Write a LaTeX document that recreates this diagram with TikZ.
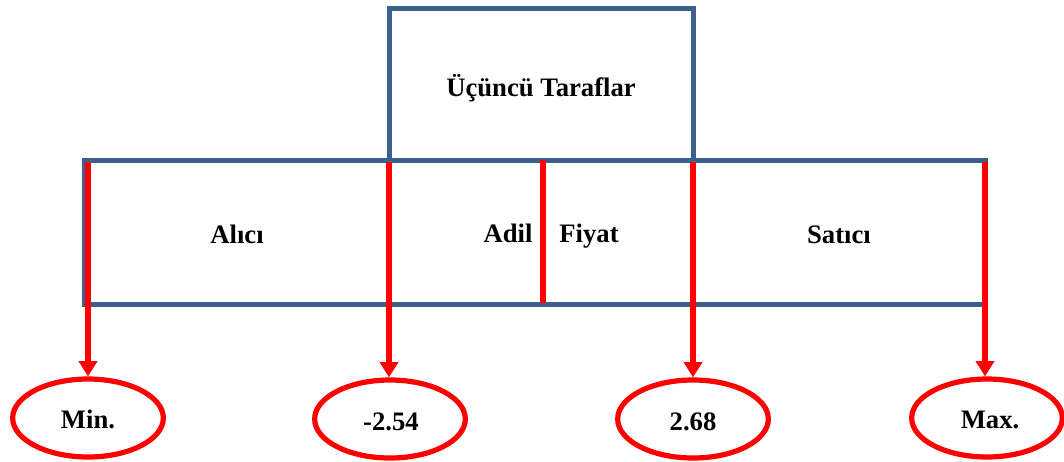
\documentclass[tikz,border=0pt]{standalone}
\usepackage{fontspec}
\setmainfont{Liberation Serif}
\usetikzlibrary{arrows.meta,shapes.geometric}
\definecolor{frameblue}{HTML}{3D5F8C}
\definecolor{markred}{HTML}{FF0000}
\tikzset{
  panel/.style={draw=frameblue, line width=3.75pt, rectangle, inner sep=0pt, outer sep=0pt},
  lbl/.style={font=\bfseries\fontsize{20}{22}\selectfont, inner sep=0pt, anchor=base},
  bound/.style={draw=markred, line width=3.9pt, ellipse, inner sep=0pt,
    minimum width=113pt, minimum height=58.5pt},
  boundtext/.style={font=\bfseries\fontsize{20}{22}\selectfont, inner sep=0pt, anchor=base},
  pointer/.style={draw=markred, line width=3.9pt, -{Triangle[width=13.5pt,length=11.5pt]}},
  divider/.style={draw=markred, line width=3.9pt}
}
\begin{document}
\begin{tikzpicture}[x=0.75pt,y=-0.75pt]
\useasboundingbox (0,0) rectangle (1064,461);
% frames
\node[panel, minimum width=228pt, minimum height=114pt] (third) at (541,84) {};
\node[panel, minimum width=675.75pt, minimum height=108pt] (range) at (534.5,232) {};
% labels
\node[lbl] (tt) at (541,96) {Üçüncü Taraflar};
\node[lbl] (buyer) at (237,243) {Alıcı};
\node[lbl] (fair1) at (508,242) {Adil};
\node[lbl] (fair2) at (589,242) {Fiyat};
\node[lbl] (seller) at (839,243) {Satıcı};
% bounds
\node[bound] (min) at (88,418) {};
\node[bound] (lo) at (390,419) {};
\node[bound] (hi) at (693,419) {};
\node[bound] (max) at (987,418) {};
\node[boundtext] (mint) at (88,428) {Min.};
\node[boundtext] (lot) at (391,430) {-2.54};
\node[boundtext] (hit) at (693,430) {2.68};
\node[boundtext] (maxt) at (990,428) {Max.};
% start points of the markers
\coordinate (s1) at (88,162);
\coordinate (s2) at (389,162);
\coordinate (s3) at (693,162);
\coordinate (s4) at (985,162);
\coordinate (m1) at (543,160);
\coordinate (m2) at (543,303);
\draw[pointer] (s1) -- (s1 |- min.north);
\draw[pointer] (s2) -- (s2 |- lo.north);
\draw[pointer] (s3) -- (s3 |- hi.north);
\draw[pointer] (s4) -- (s4 |- max.north);
\draw[divider] (m1) -- (m2);
\end{tikzpicture}
\end{document}
